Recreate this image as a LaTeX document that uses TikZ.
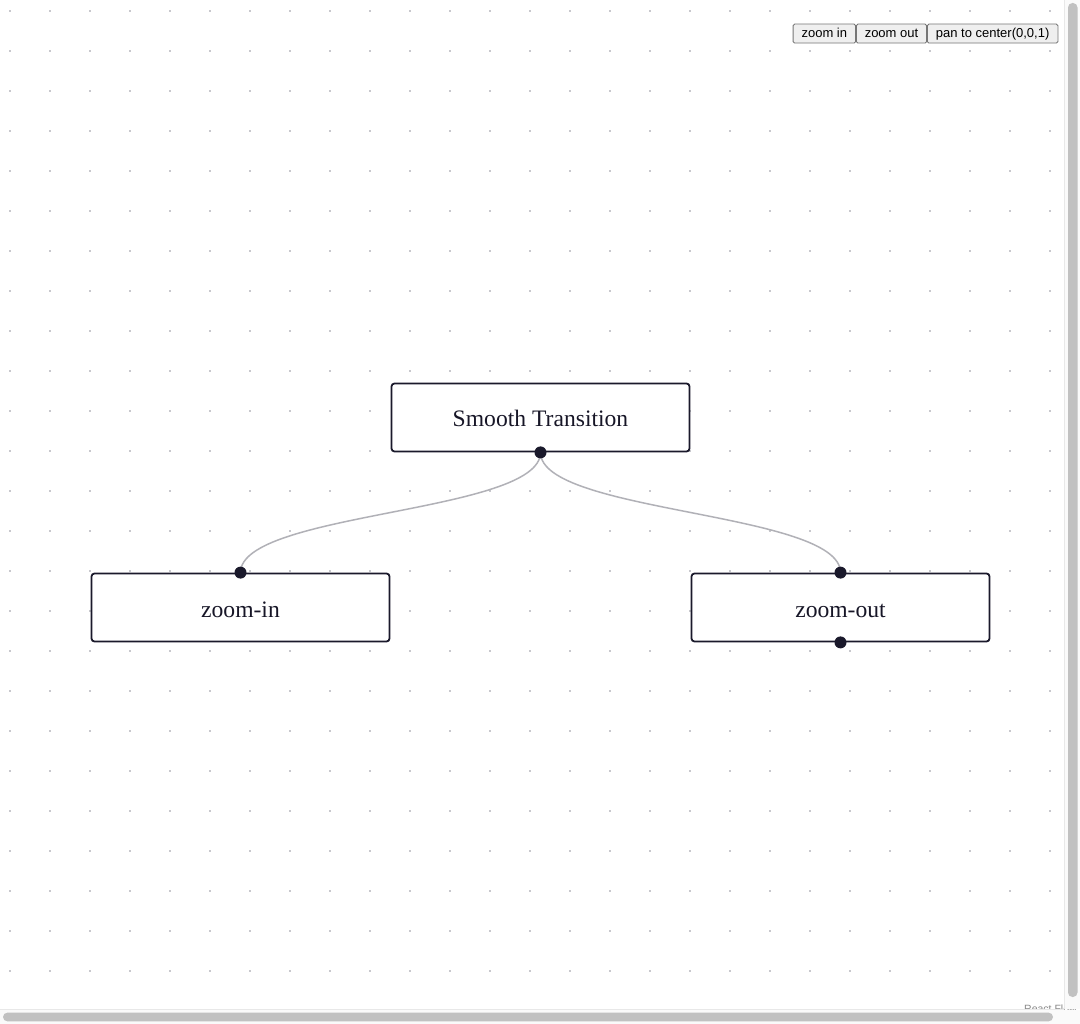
\documentclass[tikz,border=0pt]{standalone}
\usepackage{fontspec}
\setmainfont{Liberation Serif}
\newfontfamily\btnfont{Liberation Sans}
\definecolor{nodeborder}{HTML}{1A192B}
\definecolor{edgecol}{HTML}{B1B1B7}
\definecolor{dotcol}{HTML}{91919A}
\definecolor{btnbg}{HTML}{EFEFEF}
\definecolor{btnborder}{HTML}{767676}
\definecolor{thumbcol}{HTML}{C1C1C1}
\definecolor{trackcol}{HTML}{FAFAFA}
\definecolor{trackline}{HTML}{E8E8E8}
\definecolor{attrcol}{HTML}{888888}
\tikzset{
  flownode/.style={draw=nodeborder, fill=white, line width=1.8pt, rounded corners=3pt,
    minimum width=298pt, minimum height=68pt, inner sep=0pt,
    font=\fontsize{23.6}{26}\selectfont, text=nodeborder!90!black,
    text height=19pt, text depth=0pt},
  flowedge/.style={draw=edgecol, line width=1.5pt},
  handle/.style={circle, fill=nodeborder, minimum size=12pt, inner sep=0pt},
  ctrlbtn/.style={draw=btnborder, fill=btnbg, line width=0.8pt, rounded corners=1.5pt,
    minimum height=19pt, inner sep=0pt, font=\btnfont\fontsize{13}{15}\selectfont,
    text height=11pt, text depth=2.8pt, anchor=west}
}
\begin{document}
\begin{tikzpicture}[x=1pt,y=-1pt]
\useasboundingbox (0,0) rectangle (1080,1024);
\fill[white] (0,0) rectangle (1080,1024);
% dot grid
\foreach \i in {0,...,26}{
  \foreach \j in {0,...,24}{
    \fill[dotcol] (10+40*\i,11+40*\j) circle (0.9pt);
  }
}
% nodes
\node[flownode] (st) at (540.5,417.5) {Smooth Transition};
\node[flownode] (zi) at (240.5,607.5) {zoom-in};
\node[flownode] (zo) at (840.5,607.5) {zoom-out};
% edges
\draw[flowedge] (st.south) .. controls +(0,61) and +(0,-61) .. (zi.north);
\draw[flowedge] (st.south) .. controls +(0,61) and +(0,-61) .. (zo.north);
% handles
\node[handle] (hst) at (st.south) {};
\node[handle] (hzi) at (zi.north) {};
\node[handle] (hzot) at (zo.north) {};
\node[handle] (hzob) at (zo.south) {};
% control buttons
\node[ctrlbtn, minimum width=62.5pt] (bzin) at (792.7,33.6) {\makebox[62.5pt]{zoom in}};
\node[ctrlbtn, minimum width=70.2pt] (bzout) at (bzin.east) {\makebox[70.2pt]{zoom out}};
\node[ctrlbtn, minimum width=130.5pt] (bpan) at (bzout.east) {\makebox[130.5pt]{pan to center(0,0,1)}};
% attribution (partly hidden)
\node[anchor=base west, inner sep=0pt, text=attrcol, font=\btnfont\fontsize{10.5}{12}\selectfont] (attr) at (1024,1012) {React Flow};
% scrollbars
\fill[trackcol] (1064,0) rectangle (1080,1009);
\draw[trackline, line width=0.8pt] (1064,0) -- (1064,1009);
\fill[thumbcol, rounded corners=4.5pt] (1068,3) rectangle (1077.5,997);
\fill[trackcol] (0,1009.5) rectangle (1080,1024);
\draw[trackline, line width=0.8pt] (0,1009.5) -- (1064,1009.5);
\fill[thumbcol, rounded corners=4.3pt] (3,1012.7) rectangle (1053,1021.3);
\end{tikzpicture}
\end{document}
